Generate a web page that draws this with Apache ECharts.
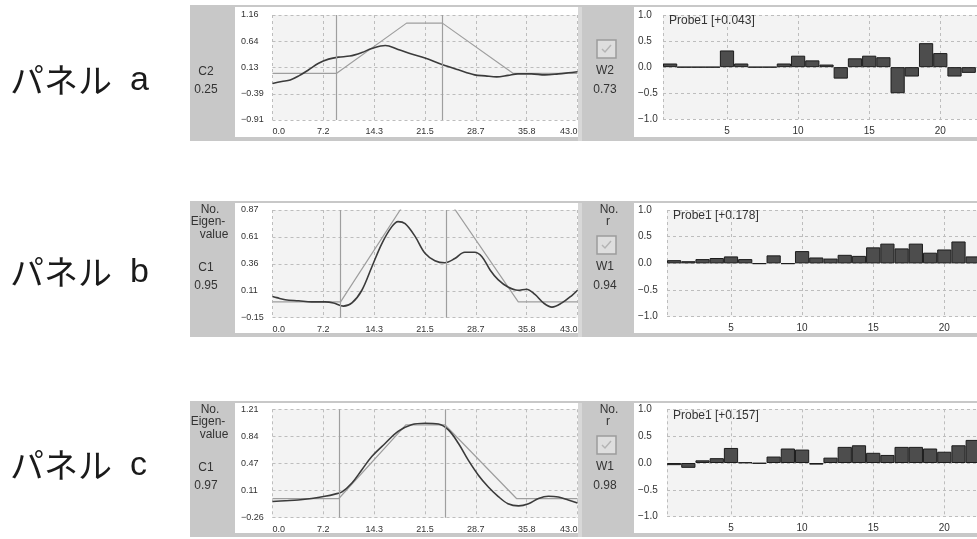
<!DOCTYPE html>
<html>
<head>
<meta charset="utf-8">
<title>Panels a-c</title>
<script src="https://cdn.jsdelivr.net/npm/echarts@6/dist/echarts.min.js"></script>
<style>
  html, body { margin: 0; padding: 0; background: #fff; }
  #chart { width: 977px; height: 539px; }
</style>
</head>
<body>
<div id="chart"></div>
<script>
// ---- data ----
const timeLabels = ['0.0', '7.2', '14.3', '21.5', '28.7', '35.8', '43.0'];
const barTickLabels = ['5', '10', '15', '20'];
const barYLabels = ['\u22121.0', '\u22120.5', '0.0', '0.5', '1.0'];

// panel a
const traceA = [[0, -0.19], [1.3, -0.15], [2.5, -0.12], [3.7, -0.04], [5.1, 0.08], [6.5, 0.21], [7.9, 0.29],
  [9.3, 0.33], [10.9, 0.35], [12.6, 0.42], [14.0, 0.50], [15.9, 0.56], [17.7, 0.48], [19.6, 0.39],
  [21.5, 0.31], [23.8, 0.19], [26.2, 0.08], [28.5, -0.02], [30.0, -0.04], [31.6, -0.06], [33.2, -0.03],
  [34.6, 0.0], [36.5, 0.0], [38.4, -0.02], [40.3, 0.0], [41.7, 0.02], [43.0, 0.04]];
const modelA = [[0, 0.01], [9.05, 0.01], [18.9, 1.0], [23.95, 1.0], [33.9, 0.01], [43, 0.01]];
const cursorsA = [9.05, 23.95];
const yTicksA = ['\u22120.91', '\u22120.39', '0.13', '0.64', '1.16'];
const barsA = [0.07, 0, 0, 0, 0.32, 0.07, 0, 0, 0.07, 0.22, 0.13, 0.05, -0.22, 0.17, 0.22, 0.19,
  -0.5, -0.18, 0.46, 0.27, -0.18, -0.11];
const probeA = 'Probe1 [+0.043]';
const compA = ['C2', '0.25'];
const weightA = ['W2', '0.73'];

// panel b
const traceB = [[0, 0.05], [0.6, 0.04], [1.8, 0.02], [3.7, 0.01], [5.5, 0.0], [7.4, 0.0], [8.6, -0.01],
  [10.0, -0.04], [11.2, -0.01], [12.6, 0.11], [14.0, 0.33], [15.4, 0.55], [16.8, 0.71], [17.7, 0.76],
  [18.7, 0.74], [20.1, 0.62], [21.5, 0.46], [22.9, 0.39], [24.3, 0.37], [25.7, 0.41], [27.1, 0.47],
  [28.5, 0.47], [29.5, 0.43], [30.7, 0.30], [31.8, 0.21], [33.2, 0.14], [34.6, 0.11], [35.8, 0.12],
  [37.0, 0.07], [38.2, -0.01], [39.4, -0.05], [40.8, -0.01], [42.2, 0.06], [43.0, 0.11]];
const modelB = [[0, 0], [9.6, 0], [19.25, 1.0], [24.45, 1.0], [34.65, 0], [43, 0]];
const cursorsB = [9.6, 24.45];
const yTicksB = ['\u22120.15', '0.11', '0.36', '0.61', '0.87'];
const barsB = [0.06, 0.04, 0.08, 0.10, 0.13, 0.08, -0.01, 0.15, -0.01, 0.23, 0.11, 0.09, 0.16, 0.14,
  0.30, 0.37, 0.28, 0.37, 0.20, 0.26, 0.41, 0.13];
const probeB = 'Probe1 [+0.178]';
const compB = ['C1', '0.95'];
const weightB = ['W1', '0.94'];

// panel c
const traceC = [[0, -0.04], [1.8, -0.03], [3.6, -0.02], [5.5, 0.0], [7.4, 0.03], [8.8, 0.06], [9.8, 0.09],
  [11.2, 0.21], [12.6, 0.39], [14.0, 0.57], [15.9, 0.75], [17.7, 0.91], [19.6, 1.0], [21.5, 1.02],
  [23.4, 1.01], [24.8, 0.93], [26.2, 0.75], [27.6, 0.52], [29.0, 0.32], [30.4, 0.16], [31.8, 0.03],
  [33.2, -0.07], [34.7, -0.10], [36.1, -0.07], [37.5, 0.0], [38.9, 0.03], [40.3, 0.02], [41.7, -0.02],
  [43.0, -0.06]];
const modelC = [[0, 0], [9.35, 0], [18.8, 1.0], [24.3, 1.0], [34.4, 0], [43, 0]];
const cursorsC = [9.35, 24.3];
const yTicksC = ['\u22120.26', '0.11', '0.47', '0.84', '1.21'];
const barsC = [-0.04, -0.09, 0.05, 0.09, 0.28, 0.01, -0.01, 0.12, 0.27, 0.25, -0.03, 0.10, 0.30, 0.33,
  0.19, 0.15, 0.30, 0.30, 0.27, 0.21, 0.33, 0.43];
const probeC = 'Probe1 [+0.157]';
const compC = ['C1', '0.97'];
const weightC = ['W1', '0.98'];

// ---- layout ----
const FONT = '"Liberation Sans", Arial, sans-serif';
const GRID_LINE = { color: '#bdbdbd', type: [3, 3], width: 1 };
const num = s => parseFloat(s.replace('\u2212', '-'));

const panels = [
  { name: 'a', top: 5, bottom: 141, lTop: 15, lBottom: 120, rTop: 15, rBottom: 119.3, rLeft: 663, labelY: 80,
    trace: traceA, model: modelA, cursors: cursorsA, yTicks: yTicksA, bars: barsA,
    probe: probeA, comp: compA, weight: weightA, header: false },
  { name: 'b', top: 201, bottom: 337, lTop: 210, lBottom: 317.7, rTop: 210, rBottom: 316.7, rLeft: 667, labelY: 272,
    trace: traceB, model: modelB, cursors: cursorsB, yTicks: yTicksB, bars: barsB,
    probe: probeB, comp: compB, weight: weightB, header: true },
  { name: 'c', top: 401, bottom: 537, lTop: 409.3, lBottom: 517.7, rTop: 409.3, rBottom: 516.7, rLeft: 667, labelY: 465,
    trace: traceC, model: modelC, cursors: cursorsC, yTicks: yTicksC, bars: barsC,
    probe: probeC, comp: compC, weight: weightC, header: true }
];

const L_LEFT = 272.5, L_RIGHT = 577.5;
const BAR_W = 14.22, BAR_SLOTS = 24;

function text(str, x, y, size, align, family, color) {
  return {
    type: 'text', x: x, y: y, z: 50,
    style: {
      text: str, font: size + 'px ' + (family || FONT), fill: color || '#333',
      align: align || 'center', textAlign: align || 'center',
      verticalAlign: 'middle', textVerticalAlign: 'middle'
    }
  };
}

function evenTicks(labels) {
  const min = num(labels[0]), max = num(labels[labels.length - 1]);
  const step = (max - min) / (labels.length - 1);
  const vals = labels.map((t, i) => (i === labels.length - 1 ? max : min + i * step));
  return { min, max, step, vals };
}

const chart = echarts.init(document.getElementById('chart'));
const grid = [], xAxis = [], yAxis = [], series = [], graphic = [];
const timeT = evenTicks(timeLabels);
const barT = evenTicks(barYLabels);
const barXVals = barTickLabels.map(num);

panels.forEach(function (p, k) {
  const h = p.bottom - p.top;
  // frames
  graphic.push({ type: 'rect', z: -10, shape: { x: 190, y: p.top, width: 392, height: h }, style: { fill: '#c8c8c8' } });
  graphic.push({ type: 'rect', z: -10, shape: { x: 578, y: p.top + 2, width: 4, height: h - 2 }, style: { fill: '#d8d8d8' } });
  graphic.push({ type: 'rect', z: -9, shape: { x: 235, y: p.top + 2, width: 343, height: h - 6 }, style: { fill: '#fff' } });
  graphic.push({ type: 'rect', z: -10, shape: { x: 582, y: p.top, width: 400, height: h }, style: { fill: '#c8c8c8' } });
  graphic.push({ type: 'rect', z: -9, shape: { x: 634, y: p.top + 2, width: 350, height: h - 6 }, style: { fill: '#fff' } });

  // panel name
  graphic.push(text('パネル', 10, p.labelY, 34, 'left', '"Noto Sans CJK JP", sans-serif', '#1a1a1a'));
  graphic.push(text(p.name, 130, p.labelY + 1, 34, 'left', FONT, '#1a1a1a'));

  // left column
  if (p.header) {
    graphic.push(text('No.', 210, p.top + 9, 12));
    graphic.push(text('Eigen-', 208, p.top + 21, 12));
    graphic.push(text('value', 214, p.top + 34, 12));
    graphic.push(text('No.', 609, p.top + 9, 12));
    graphic.push(text('r', 608, p.top + 21, 12));
  }
  graphic.push(text(p.comp[0], 206, p.top + 67, 12));
  graphic.push(text(p.comp[1], 206, p.top + 85, 12));

  // right column: checkbox + weight
  const cy = p.top + 35;
  graphic.push({ type: 'rect', z: 40, shape: { x: 597, y: cy, width: 19, height: 18 },
    style: { fill: '#dedede', stroke: '#9c9c9c', lineWidth: 1.5 } });
  graphic.push({ type: 'polyline', z: 41, shape: { points: [[602, cy + 9], [605, cy + 12], [611, cy + 5]] },
    style: { fill: null, stroke: '#b4b4b4', lineWidth: 1.5 } });
  graphic.push(text(p.weight[0], 605, p.top + 66, 12));
  graphic.push(text(p.weight[1], 605, p.top + 85, 12));

  // probe title
  graphic.push(text(p.probe, p.rLeft + 6, p.rTop + 6, 12, 'left'));

  // ---- left grid: traces ----
  const gl = 2 * k, gr = 2 * k + 1;
  const yt = evenTicks(p.yTicks);
  grid.push({ left: L_LEFT, top: p.lTop, width: L_RIGHT - L_LEFT, height: p.lBottom - p.lTop,
    show: true, backgroundColor: '#f3f3f3', borderWidth: 0, outerBoundsMode: 'none' });
  xAxis.push({
    type: 'value', gridIndex: gl, min: timeT.min, max: timeT.max,
    axisLine: { show: false }, axisTick: { show: false, customValues: timeT.vals },
    axisLabel: { customValues: timeT.vals, margin: 7, fontSize: 9, color: '#333', fontFamily: FONT,
      formatter: v => timeLabels[Math.round((v - timeT.min) / timeT.step)],
      alignMinLabel: 'left', alignMaxLabel: 'right' },
    splitLine: { show: true, lineStyle: GRID_LINE }
  });
  yAxis.push({
    type: 'value', gridIndex: gl, min: yt.min, max: yt.max,
    axisLine: { show: false }, axisTick: { show: false, customValues: yt.vals },
    axisLabel: { customValues: yt.vals, align: 'left', margin: 31.5, fontSize: 9, color: '#333', fontFamily: FONT,
      formatter: v => p.yTicks[Math.round((v - yt.min) / yt.step)] },
    splitLine: { show: true, lineStyle: GRID_LINE }
  });
  series.push({
    type: 'line', xAxisIndex: gl, yAxisIndex: gl, data: p.model, showSymbol: false, silent: true,
    lineStyle: { color: '#9e9e9e', width: 1.2 }, z: 3,
    markLine: {
      symbol: 'none', silent: true, label: { show: false },
      lineStyle: { color: '#9e9e9e', width: 1.2, type: 'solid' },
      data: p.cursors.map(x => ({ xAxis: x }))
    }
  });
  series.push({
    type: 'line', xAxisIndex: gl, yAxisIndex: gl, data: p.trace, showSymbol: false, silent: true,
    smooth: 0.35, lineStyle: { color: '#3b3b3b', width: 1.6 }, z: 4
  });

  // ---- right grid: bars ----
  grid.push({ left: p.rLeft, top: p.rTop, width: BAR_W * BAR_SLOTS, height: p.rBottom - p.rTop,
    show: true, backgroundColor: '#f3f3f3', borderWidth: 0, outerBoundsMode: 'none' });
  xAxis.push({
    type: 'value', gridIndex: gr, min: 0.5, max: BAR_SLOTS + 0.5,
    axisLine: { show: false }, axisTick: { show: false, customValues: [0.5].concat(barXVals) },
    axisLabel: { customValues: barXVals, margin: 7, fontSize: 10, color: '#333', fontFamily: FONT },
    splitLine: { show: true, lineStyle: GRID_LINE }
  });
  yAxis.push({
    type: 'value', gridIndex: gr, min: barT.min, max: barT.max, interval: barT.step,
    axisLine: { show: false }, axisTick: { show: false },
    axisLabel: { align: 'left', margin: p.rLeft - 638, fontSize: 10, color: '#333', fontFamily: FONT,
      formatter: v => barYLabels[Math.round((v - barT.min) / barT.step)] },
    splitLine: { show: true, lineStyle: GRID_LINE }
  });
  series.push({
    type: 'bar', xAxisIndex: gr, yAxisIndex: gr, barWidth: BAR_W, silent: true,
    data: p.bars.map((v, i) => [i + 1, v]),
    itemStyle: { color: '#4d4d4d', borderColor: '#1c1c1c', borderWidth: 1 }
  });
});

var option = {
  backgroundColor: '#fff',
  animation: false,
  textStyle: { fontFamily: FONT },
  grid: grid,
  xAxis: xAxis,
  yAxis: yAxis,
  series: series,
  graphic: { elements: graphic }
};
option && chart.setOption(option);
</script>
</body>
</html>
